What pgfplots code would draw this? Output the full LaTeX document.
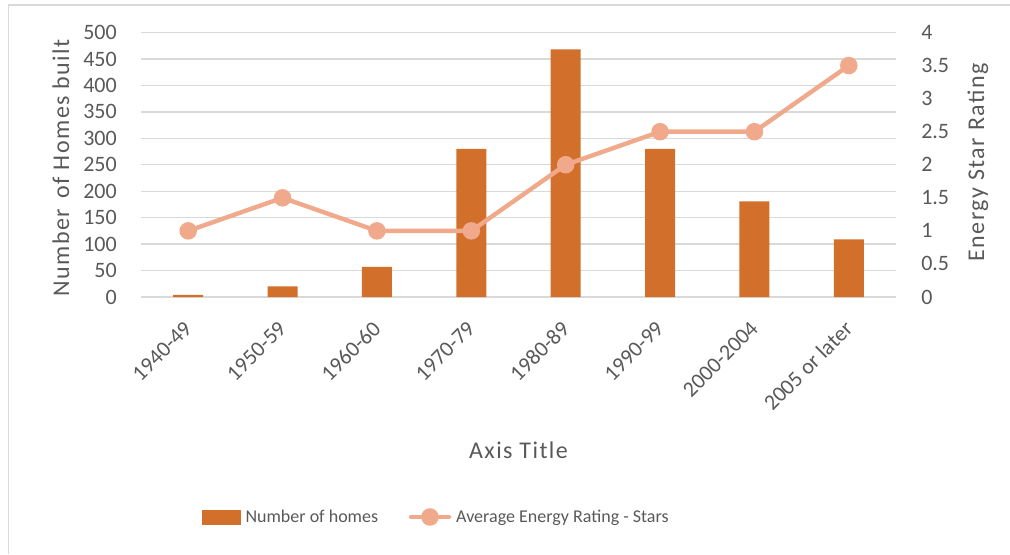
\documentclass[border=0pt]{standalone}
\usepackage{pgfplots}
\pgfplotsset{compat=1.18}
\usepackage{fontspec}
\setmainfont{Carlito}
\newfontfamily\titlefont[LetterSpace=6]{Carlito}
\definecolor{txt}{HTML}{595959}
\definecolor{gridc}{HTML}{D9D9D9}
\definecolor{barc}{HTML}{D26F2B}
\definecolor{linec}{HTML}{F1A98B}
\begin{document}
\begin{tikzpicture}
\useasboundingbox (-105.75pt,-192.75pt) rectangle (651.75pt,222.75pt);
\draw[gridc, line width=1.2pt] (-99.375pt,-192.75pt) -- (-99.375pt,219pt) -- (651.75pt,219pt);
\begin{axis}[
  scale only axis,
  width=566.25pt, height=198.375pt,
  xmin=-0.5, xmax=7.5,
  ymin=0, ymax=500,
  ytick={0,50,...,500},
  xtick={0,...,7},
  xticklabels={1940-49,1950-59,1960-60,1970-79,1980-89,1990-99,2000-2004,2005 or later},
  axis line style={draw=none},
  major tick length=0pt,
  ymajorgrids,
  grid style={gridc, line width=1pt},
  /pgf/number format/assume math mode=true,
  ticklabel style={text=txt, font=\fontsize{16.5}{19}\selectfont},
  yticklabel style={inner sep=0pt, anchor=east, xshift=-18pt},
  xticklabel style={inner sep=0pt, yshift=-21pt, rotate=45, anchor=east},
  ylabel={Number \,of Homes built},
  ylabel style={at={(axis description cs:-0.106,0.488)}, anchor=center, text=txt, font=\fontsize{18}{22}\titlefont},
  xlabel={Axis Title},
  xlabel style={at={(axis description cs:0.5,-0.578)}, anchor=center, text=txt, font=\fontsize{18}{22}\titlefont},
]
\addplot[ybar, bar width=22.5pt, fill=barc, draw=none] coordinates {
  (0,4) (1,20) (2,57) (3,280) (4,468) (5,280) (6,181) (7,109)
};
\end{axis}
\begin{axis}[
  scale only axis,
  width=566.25pt, height=198.375pt,
  xmin=-0.5, xmax=7.5,
  ymin=0, ymax=4,
  ytick={0,0.5,1,1.5,2,2.5,3,3.5,4},
  yticklabels={0,0.5,1,1.5,2,2.5,3,3.5,4},
  axis y line*=right,
  axis x line=none,
  axis line style={draw=none},
  major tick length=0pt,
  ticklabel style={text=txt, font=\fontsize{16.5}{19}\selectfont},
  yticklabel style={inner sep=0pt, anchor=west, xshift=18.75pt},
  ylabel={Energy Star Rating},
  ylabel style={at={(axis description cs:1.1086,0.5085)}, anchor=center, rotate=0, text=txt, font=\fontsize{18}{22}\titlefont},
  legend columns=2,
  legend style={at={(axis description cs:0.0808,-0.8318)}, anchor=west, draw=none, fill=none, inner sep=0pt, outer sep=0pt,
    font=\fontsize{13.5}{16}\selectfont, text=txt,
    nodes={inner xsep=0pt, inner ysep=2pt},
    /tikz/every odd column/.append style={column sep=3.75pt},
    /tikz/every even column/.append style={column sep=23pt}},
]
\addlegendimage{legend image code/.code={\fill[barc] (0pt,-5.25pt) rectangle (28.5pt,5.25pt);}}
\addlegendentry{Number of homes}
\addplot[linec, line width=3.3pt, mark=*, mark size=4.9pt, mark options={fill=linec, draw=none},
  legend image code/.code={\draw[linec, line width=3.3pt, line cap=round] (1.5pt,0pt) -- (30pt,0pt); \fill[linec] (15.75pt,0pt) circle (4.9pt);}
] coordinates {
  (0,1) (1,1.5) (2,1) (3,1) (4,2) (5,2.5) (6,2.5) (7,3.5)
};
\addlegendentry{Average Energy Rating - Stars}
\end{axis}
\end{tikzpicture}
\end{document}
